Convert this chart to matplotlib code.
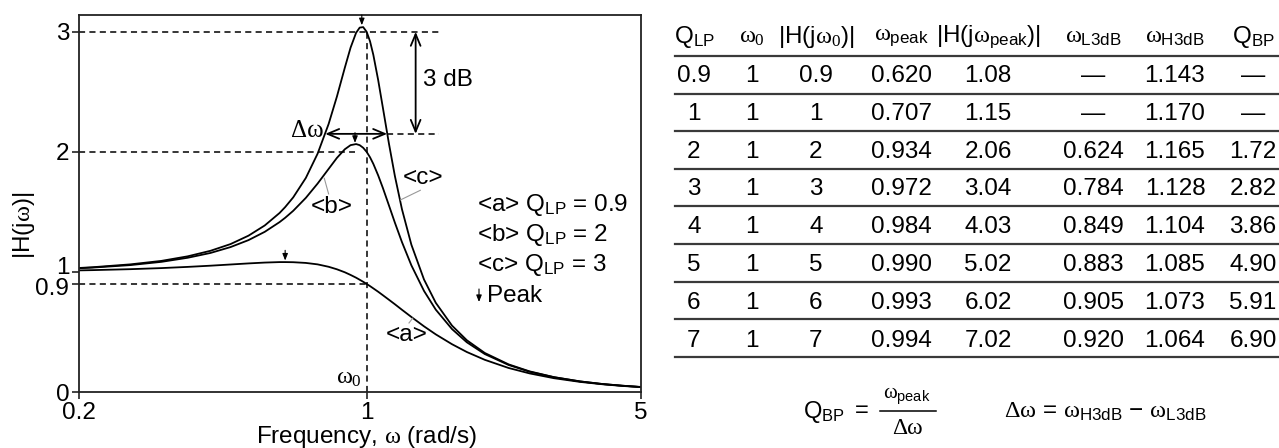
import matplotlib
matplotlib.use('Agg')
import matplotlib.pyplot as plt
from matplotlib.lines import Line2D
from matplotlib.ticker import NullLocator
from matplotlib.transforms import ScaledTranslation

plt.rcParams['font.family'] = ['Liberation Sans', 'DejaVu Sans']
plt.rcParams['mathtext.fontset'] = 'custom'
plt.rcParams['mathtext.rm'] = 'Liberation Serif'
plt.rcParams['mathtext.it'] = 'Liberation Serif'
plt.rcParams['mathtext.sf'] = 'Liberation Sans'
plt.rcParams['mathtext.bf'] = 'Liberation Serif:bold'

# magnitude curves
freq = [0.185, 0.2, 0.25, 0.3, 0.35, 0.4, 0.45, 0.5, 0.55, 0.6,
        0.62, 0.65, 0.7, 0.75, 0.8, 0.84, 0.88, 0.91, 0.94, 0.96,
        0.98, 1.0, 1.02, 1.04, 1.07, 1.1, 1.14, 1.18, 1.23, 1.3,
        1.4, 1.5, 1.65, 1.8, 2.0, 2.3, 2.6, 3.0, 3.5, 4.0,
        4.5, 5.0]
mag_a = [1.013, 1.015, 1.023, 1.032, 1.042, 1.052, 1.062, 1.071, 1.078, 1.082,
         1.082, 1.081, 1.075, 1.063, 1.043, 1.022, 0.997, 0.975, 0.952, 0.935,
         0.918, 0.900, 0.882, 0.863, 0.835, 0.806, 0.768, 0.731, 0.685, 0.625,
         0.547, 0.480, 0.398, 0.333, 0.268, 0.200, 0.155, 0.115, 0.084, 0.064,
         0.050, 0.041]
mag_b = [1.031, 1.036, 1.057, 1.084, 1.118, 1.158, 1.207, 1.265, 1.334, 1.415,
         1.451, 1.509, 1.617, 1.736, 1.858, 1.950, 2.022, 2.056, 2.065, 2.056,
         2.034, 2.000, 1.955, 1.900, 1.804, 1.699, 1.553, 1.411, 1.249, 1.055,
         0.842, 0.686, 0.524, 0.414, 0.316, 0.225, 0.169, 0.123, 0.088, 0.066,
         0.052, 0.041]
mag_c = [1.033, 1.039, 1.063, 1.092, 1.130, 1.176, 1.232, 1.302, 1.387, 1.491,
         1.540, 1.621, 1.783, 1.985, 2.232, 2.461, 2.702, 2.868, 2.992, 3.035,
         3.039, 3.000, 2.921, 2.808, 2.598, 2.367, 2.067, 1.800, 1.523, 1.227,
         0.937, 0.743, 0.553, 0.431, 0.325, 0.230, 0.172, 0.124, 0.088, 0.066,
         0.052, 0.042]
legend_q = ['0.9', '2', '3']
peak_w = [0.620, 0.934, 0.972]
peak_h = [1.08, 2.06, 3.04]
band_lo, band_hi, band_level = 0.784, 1.128, 2.15

# table
headers = [r'$\mathsf{Q}_{\mathsf{LP}}$', r'$\omega_{0}$', r'|H(j$\omega_{0}$)|',
           r'$\omega_{\mathsf{peak}}$', r'|H(j$\omega_{\mathsf{peak}}$)|',
           r'$\omega_{\mathsf{L3dB}}$', r'$\omega_{\mathsf{H3dB}}$', r'$\mathsf{Q}_{\mathsf{BP}}$']
q_lp = ['0.9', '1', '2', '3', '4', '5', '6', '7']
w0 = ['1', '1', '1', '1', '1', '1', '1', '1']
h_w0 = ['0.9', '1', '2', '3', '4', '5', '6', '7']
w_peak = ['0.620', '0.707', '0.934', '0.972', '0.984', '0.990', '0.993', '0.994']
h_peak = ['1.08', '1.15', '2.06', '3.04', '4.03', '5.02', '6.02', '7.02']
w_l3db = ['—', '—', '0.624', '0.784', '0.849', '0.883', '0.905', '0.920']
w_h3db = ['1.143', '1.170', '1.165', '1.128', '1.104', '1.085', '1.073', '1.064']
q_bp = ['—', '—', '1.72', '2.82', '3.86', '4.90', '5.91', '6.90']

W, H = 1279, 448
FS = 17.5


def fp(px, py):
    return px / W, 1 - py / H


fig = plt.figure(figsize=(W / 100, H / 100), dpi=100)
ax = fig.add_axes([79 / W, 56 / H, 562 / W, 377 / H])

for m in (mag_a, mag_b, mag_c):
    ax.plot(freq, m, color='k', lw=1.3)

ax.set_xscale('log')
ax.set_xlim(0.185, 5)
ax.set_ylim(0, 3.14)
ax.set_xticks([0.185, 1, 5])
ax.set_xticklabels(['0.2', '1', '5'])
ax.xaxis.set_minor_locator(NullLocator())
ax.set_yticks([0, 0.9, 1, 2, 3])
ax.set_yticklabels(['0', '0.9', '1', '2', '3'])
ax.tick_params(direction='out', length=5, width=1.2, labelsize=FS, pad=2, color='#222222')
for s in ax.spines.values():
    s.set_linewidth(1.3)
    s.set_color('#222222')
ylabs = ax.get_yticklabels()
ylabs[2].set_transform(ylabs[2].get_transform() + ScaledTranslation(0, 4.5 / 72, fig.dpi_scale_trans))
ylabs[1].set_transform(ylabs[1].get_transform() + ScaledTranslation(0, -1.5 / 72, fig.dpi_scale_trans))

ax.set_xlabel(r'Frequency, $\omega$ (rad/s)', fontsize=FS)
ax.xaxis.set_label_coords(0.512, -0.119)
ax.xaxis.label.set_va('center')
ax.set_ylabel(r'|H(j$\omega$)|', fontsize=FS)
ax.yaxis.set_label_coords(-0.098, 0.443)
ax.yaxis.label.set_va('center')

# guide lines
dash = dict(color='k', lw=1.1, ls=(0, (4, 2.8)))
ax.plot([0.185, 1.53], [3, 3], **dash)
ax.plot([band_hi, 1.53], [band_level, band_level], **dash)
ax.plot([0.185, peak_w[1]], [2, 2], **dash)
ax.plot([0.185, 1], [0.9, 0.9], **dash)
ax.plot([1, 1], [0, 3], **dash)

# peak markers
for w, h in zip(peak_w, peak_h):
    ax.annotate('', xy=(w, h + 0.015), xytext=(w, h + 0.1),
                arrowprops=dict(arrowstyle='-|>,head_length=0.5,head_width=0.2',
                                color='k', lw=0.8, shrinkA=0, shrinkB=0, mutation_scale=8))

# bandwidth and 3 dB arrows
arr = dict(arrowstyle='<->,head_length=0.6,head_width=0.25', color='k', lw=1.3,
           shrinkA=0, shrinkB=0, mutation_scale=14)
ax.annotate('', xy=(band_lo, band_level), xytext=(band_hi, band_level), arrowprops=arr)
ax.annotate('', xy=(1.333, 3.0), xytext=(1.333, band_level), arrowprops=arr)
ax.text(0.776, 2.17, 'Δω', family='Liberation Serif', fontsize=18, ha='right', va='center')
ax.text(1.395, 2.6, '3 dB', fontsize=FS, ha='left', va='center')
ax.text(0.975, 0.12, r'$\omega_0$', fontsize=FS, ha='right', va='center')

# curve labels with leaders
lead = dict(color='#999999', lw=0.8)
ax.text(1.264, 0.475, '<a>', fontsize=FS, ha='center', va='center')
ax.plot([1.282, 1.31], [0.575, 0.615], **lead)
ax.text(0.814, 1.54, '<b>', fontsize=FS, ha='center', va='center')
ax.plot([0.80, 0.78], [1.65, 1.78], **lead)
ax.text(1.389, 1.78, '<c>', fontsize=FS, ha='center', va='center')
ax.plot([1.37, 1.22], [1.68, 1.60], **lead)

# legend text
for i, (tag, q) in enumerate(zip(['<a>', '<b>', '<c>'], legend_q)):
    fig.text(*fp(477, 205 + 30 * i), tag + r' $\mathsf{Q}_{\mathsf{LP}}$ = ' + q,
             fontsize=FS, ha='left', va='center')
fig.text(*fp(487, 296), 'Peak', fontsize=FS, ha='left', va='center')
ax.annotate('', xy=fp(479, 302), xytext=fp(479, 289), xycoords='figure fraction',
            textcoords='figure fraction',
            arrowprops=dict(arrowstyle='-|>,head_length=0.5,head_width=0.2',
                            color='k', lw=0.8, shrinkA=0, shrinkB=0, mutation_scale=8))

# table
cols_x = [694, 752, 816, 901, 988, 1093, 1175, 1253]
columns = [q_lp, w0, h_w0, w_peak, h_peak, w_l3db, w_h3db, q_bp]
for x, hd in zip(cols_x, headers):
    fig.text(*fp(x, 37), hd, fontsize=FS, ha='center', va='center')
for x, col in zip(cols_x, columns):
    for i, v in enumerate(col):
        fig.text(*fp(x, 76 + 37.8 * i), v, fontsize=FS, ha='center', va='center')
for i in range(9):
    y = 56 + 37.6 * i
    fig.add_artist(Line2D([675 / W, 1], [1 - y / H] * 2, color='#3a3a3a', lw=1.6))

# formulas
fig.text(*fp(803, 412), r'$\mathsf{Q}_{\mathsf{BP}}$', fontsize=17, ha='left', va='center')
fig.text(*fp(862, 411), '=', fontsize=17, ha='center', va='center')
fig.text(*fp(907, 396), r'$\omega_{\mathsf{peak}}$', fontsize=15, ha='center', va='center')
fig.add_artist(Line2D([880 / W, 936 / W], [1 - 411 / H] * 2, color='k', lw=1.1))
fig.text(*fp(907, 428), 'Δω', family='Liberation Serif', fontsize=17, ha='center', va='center')
fig.text(*fp(1004, 412), r'$\Delta\omega$ = $\omega_{\mathsf{H3dB}}$ − $\omega_{\mathsf{L3dB}}$',
         fontsize=17.5, ha='left', va='center')

fig.savefig('out.png', dpi=100)
